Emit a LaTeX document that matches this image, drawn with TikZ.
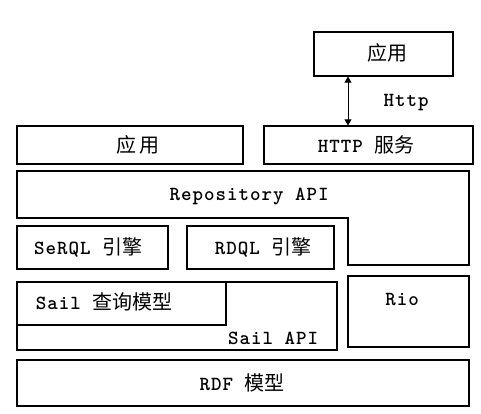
\documentclass[tikz,border=0pt]{standalone}
\usepackage{fontspec}
\newfontfamily\cjk{Noto Sans CJK SC}
\newfontfamily\monof{lmmonolt10-bold.otf}[LetterSpace=5]
\usetikzlibrary{arrows.meta}
\tikzset{
  box/.style={draw=black, line width=1.2pt, inner sep=0pt},
  lbl/.style={inner sep=0pt, anchor=center, text=black},
  cjkt/.style={font=\cjk\fontsize{20}{20}\selectfont},
  mt/.style={font=\monof\fontsize{20}{20}\selectfont},
}
\newcommand{\zh}[1]{{\cjk\fontsize{20}{20}\selectfont #1}}
\begin{document}
\begin{tikzpicture}[x=1pt,y=-1pt]
\useasboundingbox (0,0) rectangle (481,414);
\fill[white] (0,0) rectangle (481,414);
% top app
\node[box, minimum width=139pt, minimum height=44pt] (app2) at (383.5,54) {};
\node[lbl, cjkt] (app2t) at (387,53) {应用};
% left app
\node[box, minimum width=226pt, minimum height=38pt] (app1) at (130,145) {};
\node[lbl, cjkt] (app1t) at (138,145) {应\,用};
% http service
\node[box, minimum width=209pt, minimum height=38pt] (http) at (368.5,145) {};
\node[lbl, mt] (httpt) at (366,145) {HTTP \zh{服务}};
% arrow
\coordinate (ax) at (348,0);
\draw[line width=0.8pt, {Triangle[width=7pt,length=6pt]}-{Triangle[width=7pt,length=6pt]}] (app2.south -| ax) -- (http.north -| ax);
\node[lbl, mt] (httplbl) at (406,103) {Http};
% repository API
\draw[line width=1.2pt] (17,171) -- (469,171) -- (469,265) -- (348,265) -- (348,218) -- (17,218) -- cycle;
\node[lbl, mt] (repo) at (249,196) {Repository API};
% engines
\node[box, minimum width=151pt, minimum height=43pt] (serql) at (92.5,247.5) {};
\node[lbl, mt] (serqlt) at (88,247) {SeRQL \zh{引擎}};
\node[box, minimum width=147pt, minimum height=43pt] (rdql) at (260.5,247.5) {};
\node[lbl, mt] (rdqlt) at (263,247) {RDQL \zh{引擎}};
% sail
\node[box, minimum width=320pt, minimum height=68pt] (sail) at (177,316) {};
\node[box, minimum width=209pt, minimum height=43pt] (sailq) at (121.5,303.5) {};
\node[lbl, mt] (sailqt) at (104,302) {Sail \zh{查询模型}};
\node[lbl, mt] (sailapi) at (273,338) {Sail API};
% rio
\node[box, minimum width=121pt, minimum height=71pt] (rio) at (408.5,311.5) {};
\node[lbl, mt] (riot) at (402,299) {Rio};
% rdf
\node[box, minimum width=452pt, minimum height=46pt] (rdf) at (243,383) {};
\node[lbl, mt] (rdft) at (242,383) {RDF \zh{模型}};
\end{tikzpicture}
\end{document}
